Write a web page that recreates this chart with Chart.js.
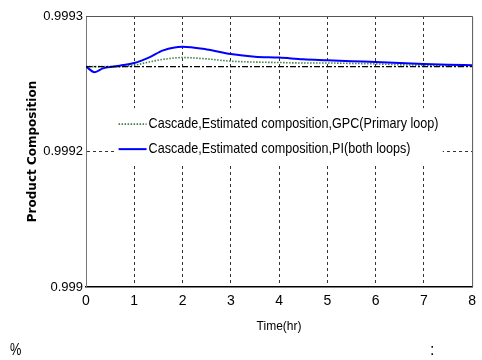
<!DOCTYPE html>
<html>
<head>
<meta charset="utf-8">
<script src="https://cdn.jsdelivr.net/npm/chart.js@4.4.0/dist/chart.umd.min.js"></script>
<style>
  html, body { margin: 0; padding: 0; background: #fff; }
  #wrap { position: relative; width: 482px; height: 360px; }
  canvas { position: absolute; left: 0; top: 0; }
  .stray { position: absolute; font-family: 'Liberation Sans', Arial, sans-serif; font-size: 16px; color: #000; line-height: 1; }
</style>
</head>
<body>
<div id="wrap">
  <canvas id="c" width="482" height="360"></canvas>
  <div class="stray" style="left:10px; top:342px; transform: scaleX(0.8); transform-origin: left;">%</div>
  <div class="stray" style="left:430px; top:342px;">:</div>
</div>
<script>
// ---- data ----
const times = [0, 0.18, 0.35, 0.7, 1.0, 1.3, 1.6, 2.0, 2.5, 3.0, 3.5, 4.0, 4.5, 5.0, 5.5, 6.0, 6.5, 7.0, 7.5, 8.0];
const gpcPrimary = [0.999244, 0.999244, 0.999244, 0.999244, 0.9992455, 0.999249, 0.999252, 0.999254, 0.9992525, 0.99925,
                    0.999249, 0.9992485, 0.999248, 0.999248, 0.9992475, 0.999247, 0.999246, 0.9992455, 0.999245, 0.999245];
const piBoth = [0.999244, 0.9992378, 0.999242, 0.999245, 0.999248, 0.999254, 0.999262, 0.999266, 0.999263, 0.999258,
                0.999255, 0.999254, 0.999252, 0.999251, 0.99925, 0.999249, 0.999248, 0.999247, 0.999246, 0.9992455];
const setpointTimes = [0, 8];
const setpointValues = [0.999244, 0.999244];
const seriesNames = ['Cascade,Estimated composition,GPC(Primary loop)', 'Cascade,Estimated composition,PI(both loops)'];
const xTickValues = [0, 1, 2, 3, 4, 5, 6, 7, 8];
const yTickValues = [0.999, 0.99915, 0.9993];
const yTickLabels = ['0.999', '0.9992', '0.9993'];
const xTitle = 'Time(hr)';
const yTitle = 'Product Composition';

const FONT = "'Liberation Sans', Arial, sans-serif";

const toXY = (xs, ys) => xs.map((x, i) => ({ x: x, y: ys[i] }));

const frameAndLegend = {
  id: 'frameAndLegend',
  afterDraw(chart) {
    const ctx = chart.ctx;
    const a = chart.chartArea;
    ctx.save();
    // top and right frame lines
    ctx.setLineDash([]);
    ctx.lineWidth = 1;
    ctx.strokeStyle = '#555';
    ctx.beginPath();
    ctx.moveTo(a.left, a.top + 0.5);
    ctx.lineTo(a.right + 0.5, a.top + 0.5);
    ctx.lineTo(a.right + 0.5, a.bottom);
    ctx.stroke();

    // legend box inside plot
    const W = a.right - a.left, H = a.bottom - a.top;
    const bx = a.left + W * 0.074, by = a.top + H * 0.34;
    const bw = W * 0.85, bh = H * 0.21;
    ctx.fillStyle = '#fff';
    ctx.fillRect(bx, by, bw, bh);
    const items = [chart.data.datasets[0], chart.data.datasets[1]];
    ctx.font = "15px " + FONT;
    ctx.textBaseline = 'middle';
    ctx.fillStyle = '#000';
    items.forEach((ds, i) => {
      const ly = by + 16 + i * 25;
      ctx.strokeStyle = ds.borderColor;
      ctx.lineWidth = ds.borderWidth;
      ctx.setLineDash(ds.borderDash || []);
      ctx.beginPath();
      ctx.moveTo(bx + 4, ly);
      ctx.lineTo(bx + 32, ly);
      ctx.stroke();
      ctx.setLineDash([]);
      ctx.save();
      ctx.translate(bx + 34, ly);
      ctx.scale(0.84, 1);
      ctx.fillText(seriesNames[i], 0, 0);
      ctx.restore();
    });
    ctx.restore();
  }
};

new Chart(document.getElementById('c'), {
  type: 'line',
  data: {
    datasets: [
      { label: seriesNames[0], data: toXY(times, gpcPrimary), borderColor: '#3f7f4a', borderWidth: 1.6, borderDash: [1.5, 1.5], pointRadius: 0, cubicInterpolationMode: 'monotone', order: 3 },
      { label: seriesNames[1], data: toXY(times, piBoth), borderColor: '#0000ff', borderWidth: 2, pointRadius: 0, cubicInterpolationMode: 'monotone', order: 2 },
      { label: 'setpoint', data: toXY(setpointTimes, setpointValues), borderColor: '#000', borderWidth: 1.3, borderDash: [6, 2, 2, 2], pointRadius: 0, order: 1 }
    ]
  },
  options: {
    responsive: false,
    animation: false,
    devicePixelRatio: 1,
    layout: { padding: { left: 0, right: 6, top: 16, bottom: 0 } },
    plugins: { legend: { display: false }, tooltip: { enabled: false } },
    scales: {
      x: {
        type: 'linear', min: 0, max: 8,
        afterBuildTicks: s => { s.ticks = xTickValues.map(v => ({ value: v })); },
        afterFit: s => { s.height = 73; },
        ticks: { color: '#000', font: { family: FONT, size: 14 }, padding: 6, maxRotation: 0, autoSkip: false, callback: v => String(v) },
        grid: { color: ctx => (ctx.index === 0 || ctx.index === xTickValues.length - 1) ? 'rgba(0,0,0,0)' : '#333', lineWidth: 1, drawTicks: false },
        border: { display: true, color: '#000', width: 1.5, dash: [3, 3] },
        title: { display: true, text: xTitle, color: '#000', font: { family: FONT, size: 12 }, padding: { top: 0, bottom: 26 } }
      },
      y: {
        type: 'linear', min: 0.999, max: 0.9993,
        afterBuildTicks: s => { s.ticks = yTickValues.map(v => ({ value: v })); },
        afterFit: s => { s.width = 86; },
        ticks: { color: '#000', font: { family: FONT, size: 13 }, padding: 3, autoSkip: false, callback: (v, i) => yTickLabels[i] },
        grid: { color: ctx => (ctx.index === 0 || ctx.index === yTickValues.length - 1) ? 'rgba(0,0,0,0)' : '#333', lineWidth: 1, drawTicks: false },
        border: { display: true, color: '#777', width: 1, dash: [3, 3] },
        title: { display: true, text: yTitle, color: '#000', font: { family: "'DejaVu Sans'", size: 12, weight: 'bold' }, padding: { top: 26, bottom: 0 } }
      }
    }
  },
  plugins: [frameAndLegend]
});
</script>
</body>
</html>
